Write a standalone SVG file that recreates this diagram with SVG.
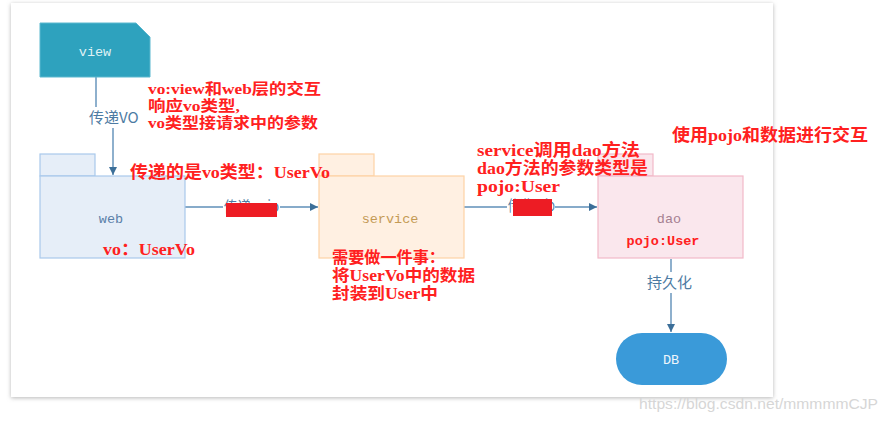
<svg xmlns="http://www.w3.org/2000/svg" width="888" height="422" viewBox="0 0 888 422">
<defs>
<filter id="sh" x="-5%" y="-5%" width="110%" height="110%">
<feDropShadow dx="0" dy="1" stdDeviation="2" flood-color="#999" flood-opacity="0.7"/>
</filter>
<marker id="ah" viewBox="0 0 10 10" refX="10" refY="5" markerWidth="8" markerHeight="8" markerUnits="userSpaceOnUse" orient="auto">
<path d="M0,0 L10,5 L0,10 Z" fill="#3c6f99"/>
</marker>
</defs>
<style>
.conn{fill:none;stroke:#5f8fb8;stroke-width:1.4}
.clab{font-family:"Noto Sans CJK SC",sans-serif;font-size:15px;fill:#4d7ba3}
.nlab{font-family:"Liberation Mono","Noto Sans CJK SC",monospace;font-size:13.5px;text-anchor:middle}
.red{font-family:"Liberation Serif","Noto Sans CJK SC",serif;fill:#ff2020;font-weight:bold}
.redact{fill:#ed1c24}
</style>
<rect x="0" y="0" width="888" height="422" fill="#fff"/>
<rect x="11" y="3" width="762" height="394" fill="#fff" filter="url(#sh)"/>

<g id="connectors">
<path class="conn" d="M96,77 V114 H113 V175" marker-end="url(#ah)"/>
<rect x="86" y="107" width="54" height="21" fill="#fff"/>
<text class="clab" x="89" y="123">传递VO</text>
<path class="conn" d="M185,207 H318" marker-end="url(#ah)"/>
<rect x="223" y="198" width="57" height="18" fill="#fff"/>
<text class="clab" x="224" y="212" font-size="13" textLength="55" lengthAdjust="spacingAndGlyphs">传递pojo</text>
<rect class="redact" x="226" y="203" width="51" height="14"/>
<path class="conn" d="M464,207 H597" marker-end="url(#ah)"/>
<rect x="507" y="198" width="48" height="18" fill="#fff"/>
<text class="clab" x="508" y="211" font-size="12" textLength="47" lengthAdjust="spacingAndGlyphs">传递pojo</text>
<rect class="redact" x="513" y="199" width="39" height="17"/>
<path class="conn" d="M671,259 V332" marker-end="url(#ah)"/>
<rect x="645" y="272" width="50" height="21" fill="#fff"/>
<text class="clab" x="647" y="288">持久化</text>
</g>

<g id="view">
<path d="M40,23 H136 L150,37 V77 H40 Z" fill="#2ea2be" stroke="#5bb8cf" stroke-width="1"/>
<text class="nlab" x="95" y="56" fill="#dff1f5">view</text>
</g>

<g id="web">
<rect x="40" y="154" width="55" height="22" fill="#e6eef8" stroke="#a9c9ec" stroke-width="1.2"/>
<rect x="40" y="176" width="145" height="82" fill="#e6eef8" stroke="#a9c9ec" stroke-width="1.2"/>
<text class="nlab" x="111" y="223" fill="#5a7fa8">web</text>
<text class="red" x="103" y="255" font-size="17" textLength="92" lengthAdjust="spacingAndGlyphs">vo：UserVo</text>
</g>

<g id="service">
<rect x="319" y="154" width="55" height="22" fill="#fff0e2" stroke="#fdd3a6" stroke-width="1.2"/>
<rect x="319" y="176" width="145" height="82" fill="#fff0e2" stroke="#fdd3a6" stroke-width="1.2"/>
<text class="nlab" x="390" y="223" fill="#c49a55">service</text>
</g>

<g id="dao">
<rect x="598" y="154" width="55" height="22" fill="#fae7ed" stroke="#f2b9c9" stroke-width="1.2"/>
<rect x="598" y="176" width="145" height="82" fill="#fae7ed" stroke="#f2b9c9" stroke-width="1.2"/>
<text class="nlab" x="669" y="223" fill="#a58091">dao</text>
<text class="nlab" x="663" y="245" fill="#ff2020" font-weight="bold" font-size="13">pojo:User</text>
</g>

<g id="db">
<rect x="616" y="333" width="111" height="52" rx="26" fill="#3a9ad9"/>
<text class="nlab" x="671" y="364" fill="#eef6fc" font-size="14">DB</text>
</g>

<g id="notes">
<text class="red" x="148" y="94" font-size="15" textLength="173" lengthAdjust="spacingAndGlyphs">vo:view和web层的交互</text>
<text class="red" x="148" y="111" font-size="15" textLength="92" lengthAdjust="spacingAndGlyphs">响应vo类型,</text>
<text class="red" x="148" y="128" font-size="15" textLength="170" lengthAdjust="spacingAndGlyphs">vo类型接请求中的参数</text>
<text class="red" x="130" y="178" font-size="17" textLength="200" lengthAdjust="spacingAndGlyphs">传递的是vo类型：UserVo</text>
<text class="red" x="477" y="156" font-size="16.5" textLength="163" lengthAdjust="spacingAndGlyphs">service调用dao方法</text>
<text class="red" x="477" y="174" font-size="16.5" textLength="171" lengthAdjust="spacingAndGlyphs">dao方法的参数类型是</text>
<text class="red" x="477" y="192" font-size="16.5" textLength="83" lengthAdjust="spacingAndGlyphs">pojo:User</text>
<text class="red" x="672" y="141" font-size="17" textLength="196" lengthAdjust="spacingAndGlyphs">使用pojo和数据进行交互</text>
<text class="red" x="332" y="263" font-size="16" textLength="113" lengthAdjust="spacingAndGlyphs">需要做一件事：</text>
<text class="red" x="332" y="281" font-size="16" textLength="143" lengthAdjust="spacingAndGlyphs">将UserVo中的数据</text>
<text class="red" x="332" y="299" font-size="16" textLength="106" lengthAdjust="spacingAndGlyphs">封装到User中</text>
</g>

<text x="639" y="409" font-family="Liberation Sans, sans-serif" font-size="15.5" fill="#d6d6d6" textLength="239" lengthAdjust="spacingAndGlyphs">https://blog.csdn.net/mmmmmCJP</text>
</svg>
